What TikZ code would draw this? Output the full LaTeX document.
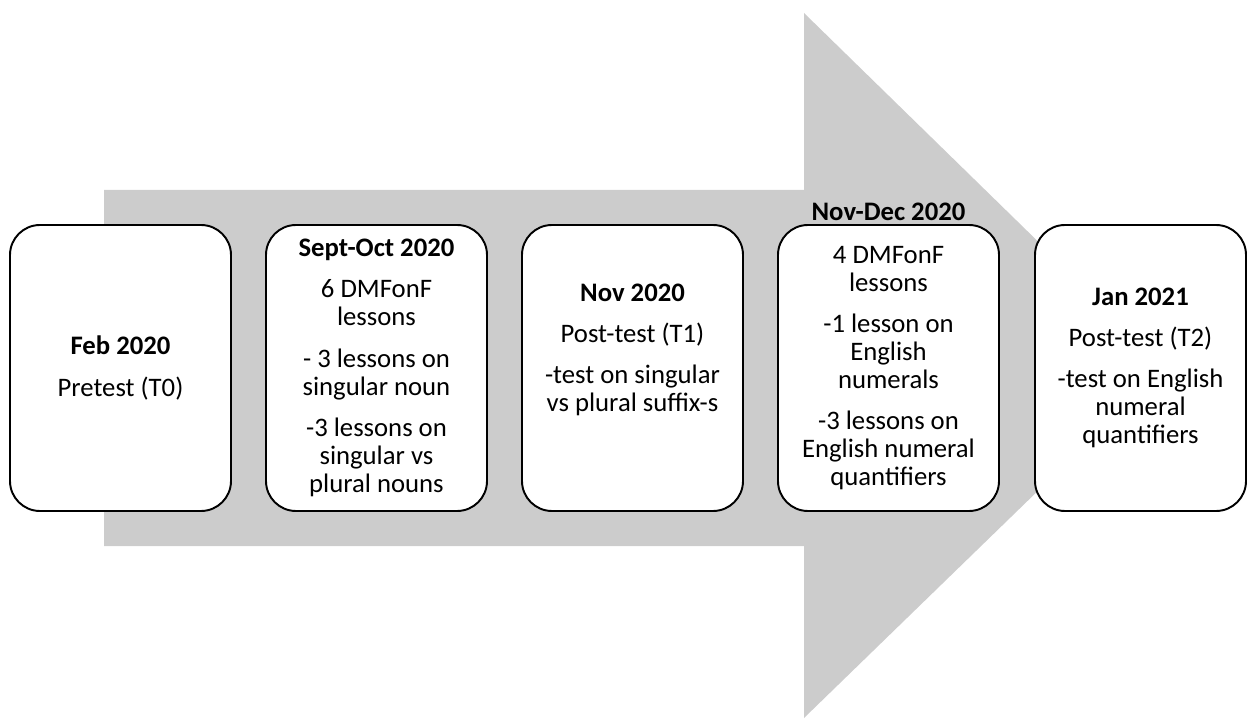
\documentclass[tikz,border=0pt]{standalone}
\usepackage{fontspec}
\setmainfont{Carlito}
\usetikzlibrary{positioning}

\definecolor{shaftgray}{RGB}{204,204,204}
\newcommand{\stagegap}{\\[7.4pt]}

\begin{document}
\begin{tikzpicture}[node distance=5.12cm, font=\fontsize{15.2}{16}\selectfont]
    \tikzstyle{stage} = [rectangle, rounded corners=0.6cm, minimum width=4.42cm, minimum height=5.72cm, align=center, draw=black, line width=1.1pt, fill=white, inner sep=2pt]

    \useasboundingbox (0,0) rectangle (24.96,-14.38);

    % Timeline arrow behind the stages
    \fill[shaftgray] (2.08,-3.80) -- (16.08,-3.80) -- (16.08,-0.26) -- (23.32,-7.33)
        -- (16.08,-14.36) -- (16.08,-10.92) -- (2.08,-10.92) -- cycle;

    % Stages
    \node [stage] (feb) at (2.41,-7.36) {\textbf{Feb 2020}\stagegap Pretest (T0)};
    \node [stage, right of=feb] (septoct) {\textbf{Sept-Oct 2020}\stagegap 6 DMFonF\\lessons\stagegap - 3 lessons on\\singular noun\stagegap -3 lessons on\\singular vs\\plural nouns};
    \node [stage, right of=septoct] (nov) {\textbf{Nov 2020}\stagegap Post-test (T1)\stagegap -test on singular\\vs plural suffix-s\stagegap ~};
    \node [stage, right of=nov] (novdec) {4 DMFonF\\lessons\stagegap -1 lesson on\\English\\numerals\stagegap -3 lessons on\\English numeral\\quantifiers};
    \node [stage, right of=novdec, xshift=-0.08cm, minimum width=4.22cm] (jan) {\textbf{Jan 2021}\stagegap Post-test (T2)\stagegap -test on English\\numeral\\quantifiers};

    % Heading that sits on top of its box
    \node [anchor=base, inner sep=0pt] (novdechead) at ([yshift=0.08cm]novdec.north) {\textbf{Nov-Dec 2020}};
\end{tikzpicture}
\end{document}
